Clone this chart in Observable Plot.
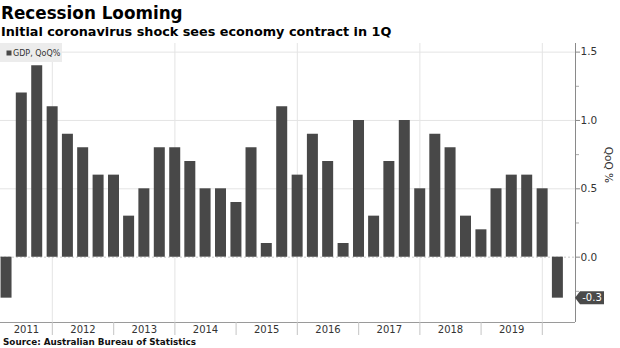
<!DOCTYPE html>
<html><head><meta charset="utf-8">
<script src="https://cdn.jsdelivr.net/npm/d3@7"></script>
<script src="https://cdn.jsdelivr.net/npm/@observablehq/plot@0.6"></script>
<style>
body{margin:0;background:#fff;width:620px;height:348px;overflow:hidden;font-family:"DejaVu Sans",sans-serif;color:#000}
#title{font-weight:bold;font-size:16.8px;line-height:22px;padding-top:2px;padding-left:1px;height:22px;white-space:nowrap}
#subtitle{font-weight:bold;font-size:12.8px;line-height:16px;height:16px;padding-left:1px;white-space:nowrap}
#chart{height:296px}
#chart svg{display:block}
#source{font-weight:bold;font-size:8.8px;line-height:12px;height:12px;padding-left:3px;white-space:nowrap;color:#111}
</style></head>
<body>
<div id="title">Recession Looming</div>
<div id="subtitle">Initial coronavirus shock sees economy contract in 1Q</div>
<div id="chart"></div>
<div id="source">Source: Australian Bureau of Statistics</div>
<script>
const quarters = [
  "2011Q1","2011Q2","2011Q3","2011Q4",
  "2012Q1","2012Q2","2012Q3","2012Q4",
  "2013Q1","2013Q2","2013Q3","2013Q4",
  "2014Q1","2014Q2","2014Q3","2014Q4",
  "2015Q1","2015Q2","2015Q3","2015Q4",
  "2016Q1","2016Q2","2016Q3","2016Q4",
  "2017Q1","2017Q2","2017Q3","2017Q4",
  "2018Q1","2018Q2","2018Q3","2018Q4",
  "2019Q1","2019Q2","2019Q3","2019Q4",
  "2020Q1"
];
const gdpQoQ = [
  -0.3, 1.2, 1.4, 1.1,
  0.9, 0.8, 0.6, 0.6,
  0.3, 0.5, 0.8, 0.8,
  0.7, 0.5, 0.5, 0.4,
  0.8, 0.1, 1.1, 0.6,
  0.9, 0.7, 0.1, 1.0,
  0.3, 0.7, 1.0, 0.5,
  0.9, 0.8, 0.3, 0.2,
  0.5, 0.6, 0.6, 0.5,
  -0.3
];
const yearLabels = ["2011","2012","2013","2014","2015","2016","2017","2018","2019"];
const yTickValues = [0, 0.5, 1.0, 1.5];
const yMinorTicks = [-0.25, 0.25, 0.75, 1.25];
const seriesName = "GDP, QoQ%";
const yAxisLabel = "QoQ %";

const data = quarters.map((q, i) => {
  const yr = +q.slice(0, 4), qn = +q.slice(5);
  return {date: new Date(Date.UTC(yr, 3 * qn, 0)), value: gdpQoQ[i]};
});

const yDomain = [-0.478, 1.563];
const xDomain = [new Date(Date.UTC(2011, 1, 26)), new Date(Date.UTC(2020, 6, 17))];
const yearStarts = d3.utcYears(new Date(Date.UTC(2012, 0, 1)), new Date(Date.UTC(2020, 0, 2)));
const gridYears = yearStarts.filter(d => d.getUTCFullYear() % 2 === 0);
const labelDates = yearLabels.map(y => {
  const a = Math.max(+xDomain[0], Date.UTC(+y, 0, 1));
  const b = Math.min(+xDomain[1], Date.UTC(+y + 1, 0, 1));
  return new Date((a + b) / 2);
});

const barColor = "#484848";
const W = 620, H = 296;

const plot = Plot.plot({
  width: W, height: H,
  marginTop: 3, marginBottom: 14, marginLeft: 0, marginRight: 45,
  style: {fontFamily: "'DejaVu Sans', sans-serif", background: "#fff", overflow: "visible"},
  x: {type: "utc", domain: xDomain},
  y: {domain: yDomain},
  marks: [
    Plot.gridX(gridYears, {stroke: "#e4e4e4", strokeOpacity: 1}),
    Plot.gridY(yTickValues.filter(v => v !== 0), {stroke: "#e4e4e4", strokeOpacity: 1}),
    Plot.gridY([0], {stroke: "#c8c8c8", strokeOpacity: 1, strokeDasharray: "2,2"}),
    Plot.ruleX(data, {x: "date", y1: 0, y2: "value", stroke: barColor, strokeWidth: 11}),
    Plot.ruleY([yDomain[0]], {stroke: "#9a9a9a"}),
    Plot.ruleX([xDomain[1]], {stroke: "#8a8a8a"}),
    Plot.axisY(yTickValues, {anchor: "right", tickSize: 4, tickPadding: 1, tickFormat: d3.format(".1f"), fontSize: 10.5, label: null, stroke: "#8a8a8a", fill: "#333"}),
    Plot.axisY(yMinorTicks, {anchor: "right", tickSize: 3, tickFormat: () => "", label: null, stroke: "#aaa"}),
    Plot.axisX(yearStarts, {anchor: "bottom", tickSize: 13, tickFormat: () => "", label: null, stroke: "#c4c4c4"}),
    Plot.axisX(labelDates, {anchor: "bottom", tickSize: 0, tickPadding: 3, tickFormat: d3.utcFormat("%Y"), fontSize: 10, label: null, fill: "#333"}),
    Plot.text([yAxisLabel], {frameAnchor: "right", dx: 32.5, rotate: 90, fontSize: 10.5, fill: "#333"})
  ]
});
document.getElementById("chart").appendChild(plot);

// legend and last-value flag
const svg = d3.select(plot);
const xs = plot.scale("x"), ys = plot.scale("y");
const lg = svg.append("g");
lg.append("rect").attr("x", 0).attr("y", 3).attr("width", 62).attr("height", 19).attr("fill", "#ececec");
lg.append("rect").attr("x", 6.5).attr("y", 10.5).attr("width", 5).attr("height", 5).attr("fill", barColor);
lg.append("text").attr("x", 13).attr("y", 13).attr("dy", "0.35em").attr("text-anchor", "start")
  .attr("font-size", 8).attr("fill", "#333").text(seriesName);

const last = data[data.length - 1];
const ax = xs.apply(xDomain[1]);
const fy = ys.apply(last.value);
const fg = svg.append("g");
fg.append("path")
  .attr("d", `M${ax},${fy} L${ax + 5},${fy - 6.5} L${ax + 29},${fy - 6.5} L${ax + 29},${fy + 6.5} L${ax + 5},${fy + 6.5} Z`)
  .attr("fill", "#4a4a4a");
fg.append("text").attr("x", ax + 17).attr("y", fy).attr("dy", "0.36em").attr("text-anchor", "middle")
  .attr("font-size", 10).attr("fill", "#fff").text(d3.format(".1f")(last.value).replace("−", "-"));
</script>
</body></html>
